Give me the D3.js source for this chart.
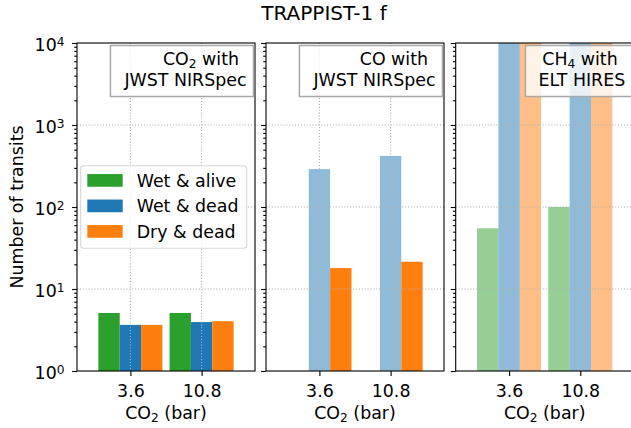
<!DOCTYPE html>
<html>
<head>
<meta charset="utf-8">
<script src="https://cdn.jsdelivr.net/npm/d3@7"></script>
<style>
body { margin: 0; background: #fff; }
svg { display: block; font-family: "DejaVu Sans", sans-serif; }
text { white-space: pre; }
</style>
</head>
<body>
<svg id="chart" width="631" height="428"></svg>
<script>
"use strict";

/* %%%%%%%%%%%%%%%%%%%%%%%%%%%% data %%%%%%%%%%%%%%%%%%%%%%%%%%%%%%%%%% */

const categories = ["3.6", "10.8"];
const seriesNames = ["Wet & alive", "Wet & dead", "Dry & dead"];
const seriesColors = ["#2ca02c", "#1f77b4", "#ff7f0e"];

// CO2 with JWST NIRSpec
const co2WetAlive = [5.1, 5.1];
const co2WetDead = [3.65, 3.95];
const co2DryDead = [3.65, 4.05];

// CO with JWST NIRSpec (no wet & alive bars)
const coWetAlive = [null, null];
const coWetDead = [290, 420];
const coDryDead = [18, 21.5];

// CH4 with ELT HIRES (dead cases run off the top of the plot)
const ch4WetAlive = [55, 100];
const ch4WetDead = [20000, 20000];
const ch4DryDead = [20000, 20000];

const yMajorTicks = [1, 10, 100, 1000, 10000];
const yTickExponents = ["0", "1", "2", "3", "4"];

/* %%%%%%%%%%%%%%%%%%%%%%%%%%%% layout %%%%%%%%%%%%%%%%%%%%%%%%%%%%%%%% */

const panels = [
    { left: 77, values: [co2WetAlive, co2WetDead, co2DryDead], alpha: [1, 1, 1],
      line1: [{ t: "CO" }, { t: "2", sub: true }, { t: " with" }], line2: "JWST NIRSpec" },
    { left: 266, values: [coWetAlive, coWetDead, coDryDead], alpha: [1, 0.5, 1],
      line1: [{ t: "CO with" }], line2: "JWST NIRSpec" },
    { left: 455.7, values: [ch4WetAlive, ch4WetDead, ch4DryDead], alpha: [0.5, 0.5, 0.5],
      line1: [{ t: "CH" }, { t: "4", sub: true }, { t: " with" }], line2: "ELT HIRES" }
];

const panelW = 178;
const plotTop = 43;
const plotBottom = 371;
const panelH = plotBottom - plotTop;
const fontSize = 17.4;
const smallSize = 12.2;
const barWidth = 0.3;
const offsets = [-0.3, 0, 0.3];

const svg = d3.select("#chart");

const x = d3.scaleLinear().domain([-0.75, 1.75]).range([0, panelW]);
const y = d3.scaleLog().domain([1, 10000]).range([panelH, 0]).clamp(true);

// text with subscript parts
const richText = (sel, parts, drop = 3) => {
    parts.forEach((p, i) => {
        if (p.sub) {
            sel.append("tspan").attr("font-size", smallSize).attr("dy", drop).text(p.t);
        } else {
            sel.append("tspan").attr("dy", i > 0 && parts[i - 1].sub ? -drop : 0).text(p.t);
        }
    });
};

/* %%%%%%%%%%%%%%%%%%%%%%%%%%%% panels %%%%%%%%%%%%%%%%%%%%%%%%%%%%%%%% */

panels.forEach((panel, pi) => {
    const g = svg.append("g").attr("transform", `translate(${panel.left},${plotTop})`);

    // bars
    panel.values.forEach((vals, si) => {
        g.append("g")
            .selectAll("rect")
            .data(vals.map((v, i) => ({ v: v, i: i })).filter((d) => d.v != null))
            .enter()
            .append("rect")
            .attr("x", (d) => x(d.i + offsets[si] - barWidth / 2))
            .attr("width", x(barWidth) - x(0))
            .attr("y", (d) => y(d.v))
            .attr("height", (d) => y(1) - y(d.v))
            .attr("fill", seriesColors[si])
            .attr("fill-opacity", panel.alpha[si]);
    });

    // dotted grid on top of the bars
    const grid = g.append("g")
        .attr("stroke", "#b0b0b0")
        .attr("stroke-width", 1.1)
        .attr("stroke-dasharray", "1.1,1.8");
    grid.selectAll(".gy")
        .data(yMajorTicks.slice(1, -1))
        .enter().append("line")
        .attr("x1", 0).attr("x2", panelW)
        .attr("y1", (d) => y(d)).attr("y2", (d) => y(d));
    grid.selectAll(".gx")
        .data(categories.map((c, i) => i))
        .enter().append("line")
        .attr("x1", (d) => x(d)).attr("x2", (d) => x(d))
        .attr("y1", 0).attr("y2", panelH);

    // y axis ticks: major and minor
    const yAxis = g.append("g")
        .call(d3.axisLeft(y).tickValues(yMajorTicks).tickSize(4.9).tickSizeOuter(0).tickFormat(""));
    yAxis.select(".domain").remove();
    const minorTicks = y.ticks().filter((t) => !yMajorTicks.includes(t));
    const yMinor = g.append("g")
        .call(d3.axisLeft(y).tickValues(minorTicks).tickSize(2.8).tickSizeOuter(0).tickFormat(""));
    yMinor.select(".domain").remove();

    // x axis
    const xAxis = g.append("g")
        .attr("transform", `translate(0,${panelH})`)
        .call(d3.axisBottom(x).tickValues([0, 1]).tickSize(4.9).tickSizeOuter(0)
            .tickFormat((d) => categories[d]));
    xAxis.select(".domain").remove();
    xAxis.selectAll("text")
        .attr("y", 25.7).attr("dy", 0)
        .attr("font-size", fontSize)
        .attr("font-family", "DejaVu Sans")
        .attr("fill", "#000");
    g.selectAll(".tick line").attr("stroke", "#000").attr("stroke-width", 1.1);

    // y tick labels only on first panel
    if (pi === 0) {
        const lab = g.append("g")
            .selectAll("text")
            .data(yMajorTicks)
            .enter()
            .append("text")
            .attr("x", -12.5)
            .attr("y", (d) => y(d) + 7.7)
            .attr("text-anchor", "end")
            .attr("font-size", fontSize);
        lab.append("tspan").text("10");
        lab.append("tspan")
            .attr("font-size", smallSize)
            .attr("dy", -4.5)
            .text((d, i) => yTickExponents[i]);
    }

    // x label
    const xl = g.append("text")
        .attr("x", panelW / 2)
        .attr("y", 419.3 - plotTop)
        .attr("text-anchor", "middle")
        .attr("font-size", fontSize);
    richText(xl, [{ t: "CO" }, { t: "2", sub: true }, { t: " (bar)" }]);

    // spines
    g.append("rect")
        .attr("width", panelW).attr("height", panelH)
        .attr("fill", "none").attr("stroke", "#000").attr("stroke-width", 1.1);

    // label box in the upper right corner
    const boxRight = panelW - 1.5;
    const box = g.append("g");
    const boxRect = box.append("rect");
    const t1 = box.append("text")
        .attr("x", boxRight - 14.5).attr("y", 65 - plotTop)
        .attr("text-anchor", "end").attr("font-size", fontSize);
    richText(t1, panel.line1, 2.5);
    box.append("text")
        .attr("x", boxRight - 7).attr("y", 86 - plotTop)
        .attr("text-anchor", "end").attr("font-size", fontSize)
        .text(panel.line2);
    const bb = box.node().getBBox();
    boxRect
        .attr("x", bb.x - 13).attr("y", 45.5 - plotTop)
        .attr("width", boxRight - bb.x + 13).attr("height", 51)
        .attr("fill", "#fff").attr("fill-opacity", 0.8)
        .attr("stroke", "#a8a8a8").attr("stroke-width", 1.5);
});

/* %%%%%%%%%%%%%%%%%%%%%%%%%%%% legend %%%%%%%%%%%%%%%%%%%%%%%%%%%%%%%% */

const legend = svg.append("g").attr("transform", "translate(80.7,165.7)");
legend.append("rect")
    .attr("width", 166).attr("height", 82.6).attr("rx", 3)
    .attr("fill", "#fff").attr("fill-opacity", 0.8)
    .attr("stroke", "#cccccc").attr("stroke-opacity", 0.8).attr("stroke-width", 1.1);
const legendRows = legend.selectAll(".row")
    .data(seriesNames)
    .enter()
    .append("g")
    .attr("transform", (d, i) => `translate(0,${14.7 + i * 25.5})`);
legendRows.append("rect")
    .attr("x", 6.6).attr("y", -6.35)
    .attr("width", 35.4).attr("height", 12.7)
    .attr("fill", (d, i) => seriesColors[i]);
legendRows.append("text")
    .attr("x", 56).attr("y", 6.3)
    .attr("font-size", fontSize)
    .text((d) => d);

/* %%%%%%%%%%%%%%%%%%%%%%%%%%%% titles %%%%%%%%%%%%%%%%%%%%%%%%%%%%%%%% */

svg.append("text")
    .attr("transform", `translate(23.3,${(plotTop + plotBottom) / 2}) rotate(-90)`)
    .attr("text-anchor", "middle")
    .attr("font-size", fontSize)
    .text("Number of transits");

svg.append("text")
    .attr("x", 324).attr("y", 20)
    .attr("text-anchor", "middle")
    .attr("font-size", 20)
    .text("TRAPPIST-1 f");
</script>
</body>
</html>
